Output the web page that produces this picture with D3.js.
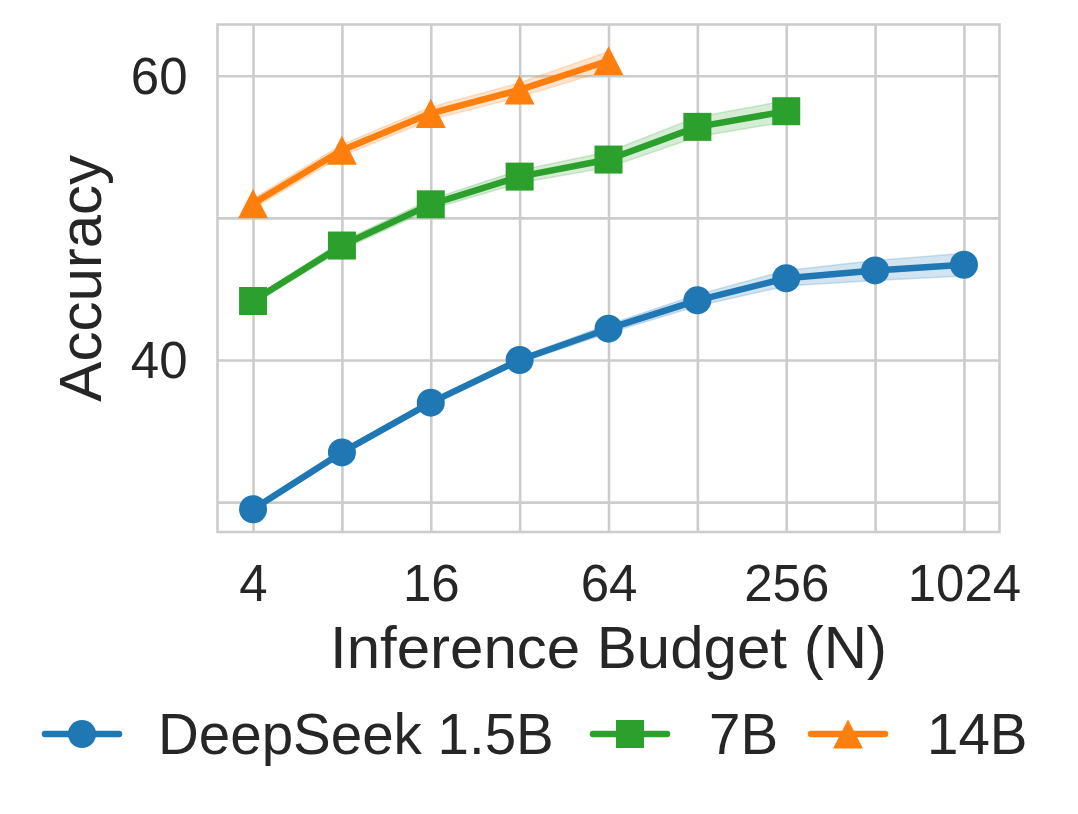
<!DOCTYPE html>
<html>
<head>
<meta charset="utf-8">
<script src="https://cdn.jsdelivr.net/npm/d3@7"></script>
<style>
  html, body { margin: 0; padding: 0; background: #fff; }
  svg { display: block; font-family: "Liberation Sans", Arial, sans-serif; }
</style>
</head>
<body>
<svg id="chart" width="1078" height="814"></svg>
<script>
// ---------------- data ----------------
const budgets = [4, 8, 16, 32, 64, 128, 256, 512, 1024];
const xTickValues = [4, 16, 64, 256, 1024];
const yTickValues = [40, 60];
const yGridValues = [30, 40, 50, 60];

const seriesNames = ["DeepSeek 1.5B", "7B", "14B"];
const acc15B = [29.5, 33.5, 37.0, 40.0, 42.2, 44.2, 45.75, 46.3, 46.7];
const acc7B  = [44.15, 48.05, 50.95, 52.9, 54.1, 56.4, 57.5];
const acc14B = [51.0, 54.75, 57.35, 59.0, 61.05];
const ci15B = [0.1, 0.12, 0.15, 0.2, 0.3, 0.4, 0.55, 0.7, 0.8];
const ci7B  = [0.2, 0.3, 0.35, 0.45, 0.55, 0.7, 0.75];
const ci14B = [0.35, 0.4, 0.45, 0.5, 0.65];

const colors = ["#1f77b4", "#2ca02c", "#ff7f0e"];
const markers = ["circle", "square", "triangle"];

const series = [acc15B, acc7B, acc14B].map((vals, i) => ({
  name: seriesNames[i],
  color: colors[i],
  marker: markers[i],
  points: vals.map((v, j) => ({ x: budgets[j], y: v, ci: [ci15B, ci7B, ci14B][i][j] }))
}));

// ---------------- layout ----------------
const svg = d3.select("#chart");
const plot = { left: 217.5, right: 999.5, top: 24.5, bottom: 532 };
const textColor = "#262626";
const gridColor = "#cccccc";

const x = d3.scaleLog().base(2)
  .domain([Math.pow(2, 1.6), Math.pow(2, 10.4)])
  .range([plot.left, plot.right]);
const y = d3.scaleLinear()
  .domain([27.9, 63.6])
  .range([plot.bottom, plot.top]);

// gridlines
const gx = svg.append("g")
  .attr("transform", `translate(0,${plot.bottom})`)
  .call(d3.axisBottom(x).tickValues(budgets).tickSize(-(plot.bottom - plot.top)).tickFormat(""));
gx.select(".domain").remove();
gx.selectAll("line").attr("stroke", gridColor).attr("stroke-width", 2.6);

const gy = svg.append("g")
  .attr("transform", `translate(${plot.left},0)`)
  .call(d3.axisLeft(y).tickValues(yGridValues).tickSize(-(plot.right - plot.left)).tickFormat(""));
gy.select(".domain").remove();
gy.selectAll("line").attr("stroke", gridColor).attr("stroke-width", 2.6);

// frame
svg.append("rect")
  .attr("x", plot.left).attr("y", plot.top)
  .attr("width", plot.right - plot.left).attr("height", plot.bottom - plot.top)
  .attr("fill", "none").attr("stroke", gridColor).attr("stroke-width", 2.6);

// tick labels
const ax = svg.append("g")
  .attr("transform", `translate(0,${plot.bottom})`)
  .call(d3.axisBottom(x).tickValues(xTickValues).tickSize(0).tickPadding(0).tickFormat(d3.format("d")));
ax.select(".domain").remove();
ax.selectAll("text")
  .attr("y", 69).attr("dy", null)
  .attr("font-size", 51).attr("fill", textColor)
  .attr("font-family", "Liberation Sans, Arial, sans-serif");

const ay = svg.append("g")
  .attr("transform", `translate(${plot.left},0)`)
  .call(d3.axisLeft(y).tickValues(yTickValues).tickSize(0).tickFormat(d3.format("d")));
ay.select(".domain").remove();
ay.selectAll("text")
  .attr("x", -30).attr("dy", "0.35em")
  .attr("font-size", 51).attr("fill", textColor)
  .attr("font-family", "Liberation Sans, Arial, sans-serif");

// axis titles
svg.append("text")
  .attr("x", (plot.left + plot.right) / 2).attr("y", 668)
  .attr("text-anchor", "middle").attr("font-size", 60).attr("fill", textColor)
  .text("Inference Budget (N)");
svg.append("text")
  .attr("transform", `translate(101,${(plot.top + plot.bottom) / 2}) rotate(-90)`)
  .attr("text-anchor", "middle").attr("font-size", 60).attr("fill", textColor)
  .text("Accuracy");

// marker drawing
function drawMarker(sel, type, color, size) {
  if (type === "circle") {
    sel.append("circle").attr("r", size / 2).attr("fill", color);
  } else if (type === "square") {
    sel.append("rect").attr("x", -size / 2).attr("y", -size / 2)
      .attr("width", size).attr("height", size).attr("fill", color);
  } else {
    const w = size * 1.07, h = size * 1.04;
    sel.append("path")
      .attr("d", `M0,${-h / 2}L${w / 2},${h / 2}L${-w / 2},${h / 2}Z`)
      .attr("fill", color);
  }
}

// bands, lines and markers
const area = d3.area()
  .x(d => x(d.x)).y0(d => y(d.y - d.ci)).y1(d => y(d.y + d.ci));
const line = d3.line().x(d => x(d.x)).y(d => y(d.y));

const dataG = svg.append("g");
series.forEach(s => {
  dataG.append("path").datum(s.points)
    .attr("d", area).attr("fill", s.color).attr("fill-opacity", 0.2)
    .attr("stroke", s.color).attr("stroke-opacity", 0.2).attr("stroke-width", 1.5);
});
series.forEach(s => {
  dataG.append("path").datum(s.points)
    .attr("d", line).attr("fill", "none").attr("stroke", s.color)
    .attr("stroke-width", 6.5).attr("stroke-linejoin", "round").attr("stroke-linecap", "round");
  dataG.selectAll(null).data(s.points).enter().append("g")
    .attr("transform", d => `translate(${x(d.x)},${y(d.y)})`)
    .each(function () { drawMarker(d3.select(this), s.marker, s.color, 28); });
});

// legend
const legendY = 734;
const legendItems = [
  { handle: 45, text: 158 },
  { handle: 593, text: 709 },
  { handle: 811, text: 927 }
];
const lg = svg.append("g");
series.forEach((s, i) => {
  const it = legendItems[i];
  lg.append("line")
    .attr("x1", it.handle).attr("x2", it.handle + 74)
    .attr("y1", legendY).attr("y2", legendY)
    .attr("stroke", s.color).attr("stroke-width", 6.5).attr("stroke-linecap", "round");
  const m = lg.append("g").attr("transform", `translate(${it.handle + 37},${legendY})`);
  drawMarker(m, s.marker, s.color, 28);
  lg.append("text")
    .attr("x", it.text).attr("y", legendY + 20)
    .attr("font-size", 56.5).attr("fill", textColor)
    .text(s.name);
});
</script>
</body>
</html>
